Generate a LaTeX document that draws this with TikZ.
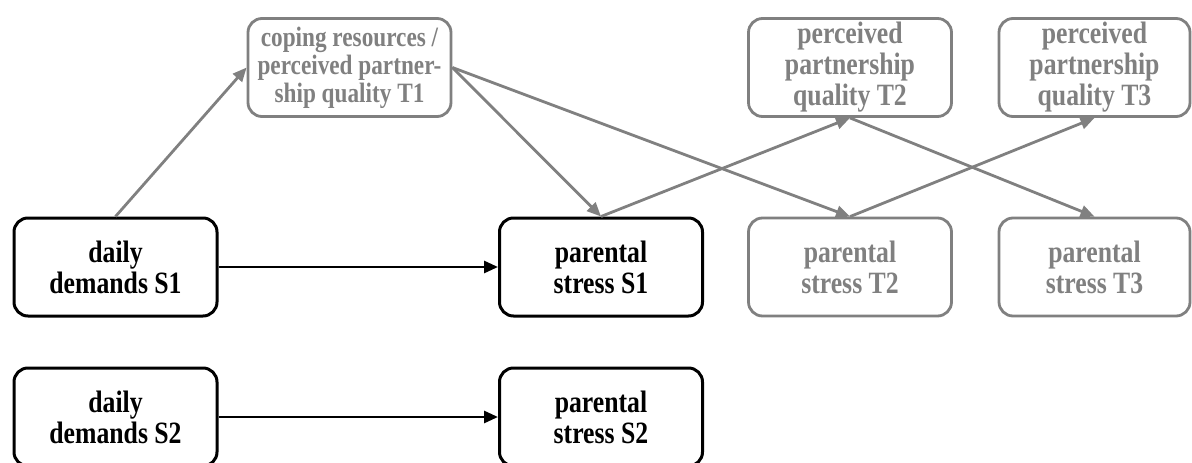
\documentclass[tikz,border=0pt]{standalone}
\usepackage{fontspec}
\setmainfont{Liberation Serif}[FakeStretch=0.83]
\usetikzlibrary{arrows.meta}
\definecolor{grayc}{RGB}{128,128,128}
\begin{document}
\begin{tikzpicture}[x=1pt,y=-1pt,
  box/.style={draw=black, line width=3pt, rounded corners=14pt, minimum width=203pt, minimum height=98pt, inner sep=0pt, align=center, font=\fontsize{31}{31}\selectfont\bfseries},
  gbox/.style={box, draw=grayc, text=grayc, line width=2.8pt},
  arr/.style={line width=2.8pt, -{Triangle[length=14pt,width=12pt]}},
  garr/.style={arr, draw=grayc, fill=grayc}]
\useasboundingbox (0,0) rectangle (1192,463);
\node[gbox, font=\fontsize{28}{28}\selectfont\bfseries] (cop) at (349.5,67.5) {coping resources /\\perceived partner-\\ship quality T1};
\node[gbox] (pq2) at (850,67.5) {perceived\\partnership\\quality T2};
\node[gbox, minimum width=191pt] (pq3) at (1094.5,67.5) {perceived\\partnership\\quality T3};
\node[box] (dd1) at (115.5,267) {daily\\demands S1};
\node[box] (ps1) at (601,267) {parental\\stress S1};
\node[gbox] (ps2t) at (850,267) {parental\\stress T2};
\node[gbox, minimum width=191pt] (ps3t) at (1094.5,267) {parental\\stress T3};
\node[box] (dd2) at (115.5,417) {daily\\demands S2};
\node[box] (ps2) at (601,417) {parental\\stress S2};
\draw[garr] (dd1.north) -- (cop.west);
\draw[garr] (cop.east) -- (ps1.north);
\draw[garr] (cop.east) -- (ps2t.north);
\draw[garr] (ps1.north) -- (pq2.south);
\draw[garr] (pq2.south) -- (ps3t.north);
\draw[garr] (ps2t.north) -- (pq3.south);
\draw[arr] (dd1.east) -- (ps1.west);
\draw[arr] (dd2.east) -- (ps2.west);
\end{tikzpicture}
\end{document}
